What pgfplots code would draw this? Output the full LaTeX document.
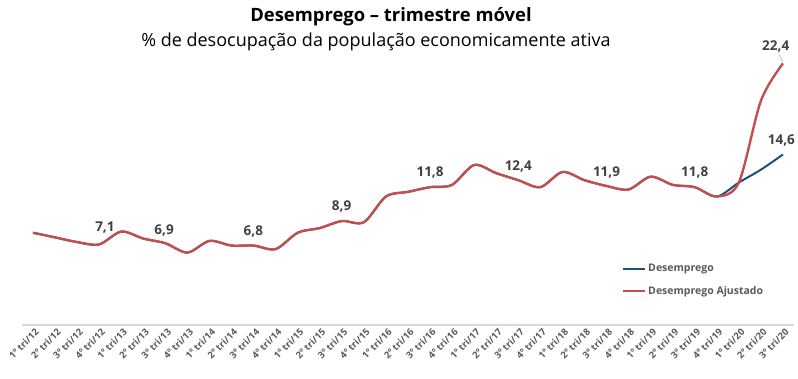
\documentclass[border=0pt]{standalone}
\usepackage{fontspec}
\setmainfont{Open Sans}
\usepackage{pgfplots}
\pgfplotsset{compat=1.18}
\definecolor{blueS}{HTML}{1F4E79}
\definecolor{redS}{HTML}{C0504D}
\definecolor{lblgray}{HTML}{404040}
\definecolor{tickgray}{HTML}{595959}
\definecolor{axgray}{HTML}{D9D9D9}
\pgfplotstableread{
i des aju
0 7.9 7.9
1 7.5 7.5
2 7.1 7.1
3 6.9 6.9
4 8.0 8.0
5 7.4 7.4
6 7.0 7.0
7 6.2 6.2
8 7.2 7.2
9 6.8 6.8
10 6.8 6.8
11 6.5 6.5
12 7.9 7.9
13 8.3 8.3
14 8.9 8.9
15 8.8 8.8
16 11.0 11.0
17 11.4 11.4
18 11.8 11.8
19 12.0 12.0
20 13.7 13.7
21 13.0 13.0
22 12.4 12.4
23 11.8 11.8
24 13.1 13.1
25 12.4 12.4
26 11.9 11.9
27 11.6 11.6
28 12.7 12.7
29 12.0 12.0
30 11.8 11.8
31 11.0 11.0
32 12.2 12.2
33 13.3 19.2
34 14.6 22.4
}\datatable
\begin{document}
\begin{tikzpicture}
\begin{axis}[
  scale only axis, width=772pt, height=292pt,
  xmin=-0.5, xmax=34.5, ymin=0, ymax=25,
  axis y line=none, axis x line*=bottom,
  x axis line style={draw=axgray, line width=1.5pt, -},
  xtick={0,...,34}, major tick length=0pt,
  xticklabels={1º tri/12,2º tri/12,3º tri/12,4º tri/12,1º tri/13,2º tri/13,3º tri/13,4º tri/13,1º tri/14,2º tri/14,3º tri/14,4º tri/14,1º tri/15,2º tri/15,3º tri/15,4º tri/15,1º tri/16,2º tri/16,3º tri/16,4º tri/16,1º tri/17,2º tri/17,3º tri/17,4º tri/17,1º tri/18,2º tri/18,3º tri/18,4º tri/18,1º tri/19,2º tri/19,3º tri/19,4º tri/19,1º tri/20,2º tri/20,3º tri/20},
  xticklabel style={rotate=45, anchor=north east, font=\fontsize{9.4}{10}\selectfont\bfseries, text=tickgray, inner sep=1pt, yshift=-2pt},
  legend style={at={(0.777,0.216)}, anchor=north west, draw=none, fill=none, font=\fontsize{10.5}{12}\selectfont\bfseries, text=tickgray, row sep=9pt, inner sep=0pt},
  legend cell align=left,
  legend image code/.code={\draw[#1, line width=2.2pt] (0pt,0pt) -- (22pt,0pt);},
  clip=false,
]
\addplot[blueS, line width=2pt, smooth] table[x=i, y=des] {\datatable};
\addlegendentry{Desemprego}
\addplot[redS, line width=2.4pt, smooth] table[x=i, y=aju] {\datatable};
\addlegendentry{Desemprego Ajustado}
\begin{scope}[every node/.style={font=\fontsize{13.5}{14}\selectfont\bfseries, text=lblgray}]
\node at (axis cs:3.26,8.35) {7,1};
\node at (axis cs:5.94,8.09) {6,9};
\node at (axis cs:9.99,8.03) {6,8};
\node at (axis cs:13.99,10.17) {8,9};
\node at (axis cs:18.0,13.03) {11,8};
\node at (axis cs:22.0,13.6) {12,4};
\node at (axis cs:26.0,13.09) {11,9};
\node at (axis cs:30.0,13.03) {11,8};
\node at (axis cs:33.93,15.83) {14,6};
\node at (axis cs:33.67,23.88) {22,4};
\end{scope}
\draw[gray!60, line width=0.6pt] (axis cs:33.8,23.24) -- (axis cs:33.99,22.5);
\end{axis}
\node[font=\fontsize{18.4}{20}\selectfont\bfseries] at (369pt,308pt) {Desemprego – trimestre móvel};
\node[font=\fontsize{18}{20}\selectfont] at (354pt,283pt) {\% de desocupação da população economicamente ativa};
\pgfresetboundingbox
\path[use as bounding box] (-22pt,-53pt) rectangle (776pt,325pt);
\end{tikzpicture}
\end{document}
